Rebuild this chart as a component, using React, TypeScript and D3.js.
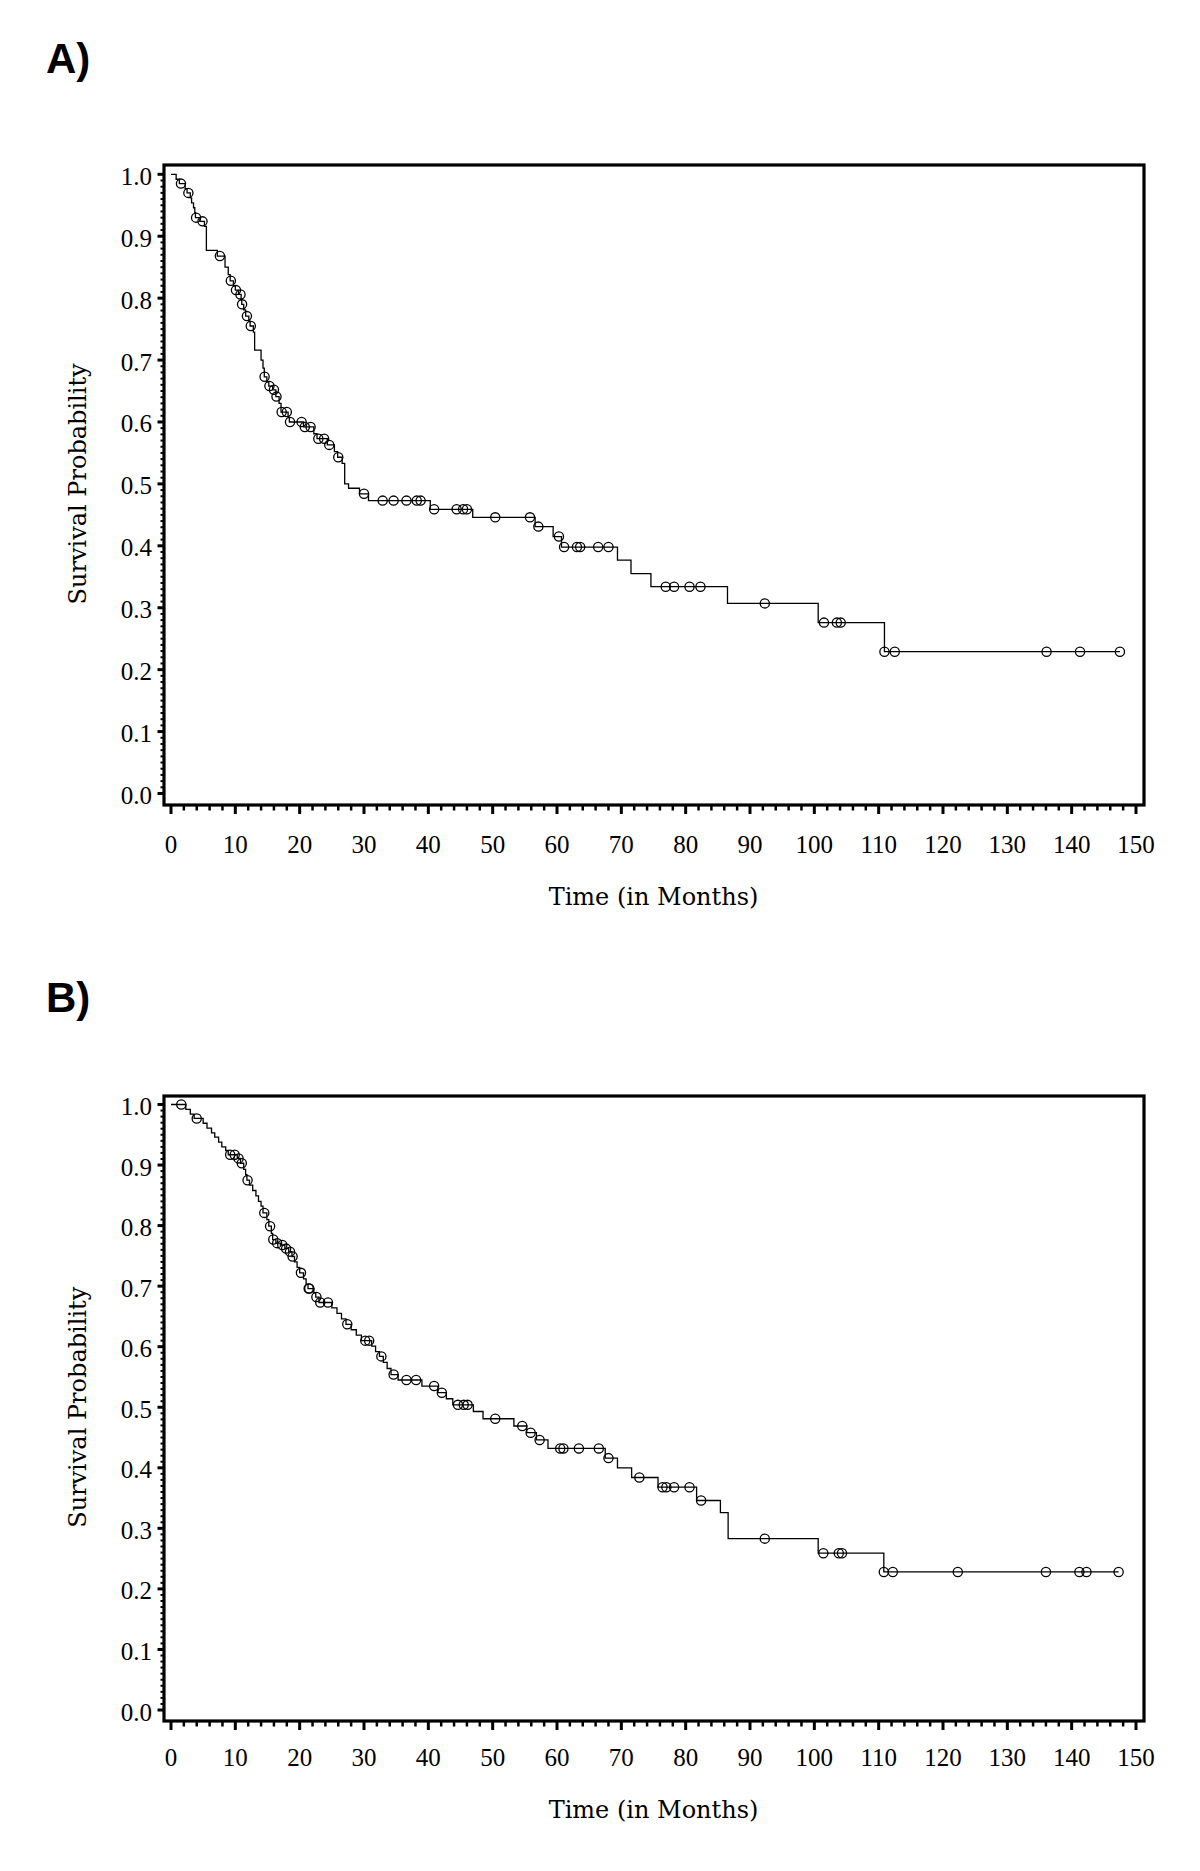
import React from 'react';
import * as d3 from 'd3';

// ---------- data ----------
const xTickValues = [0, 10, 20, 30, 40, 50, 60, 70, 80, 90, 100, 110, 120, 130, 140, 150];
const yTickValues = [0.0, 0.1, 0.2, 0.3, 0.4, 0.5, 0.6, 0.7, 0.8, 0.9, 1.0];

// Panel A: [time in months, survival probability after the step]
const stepsA: [number, number][] = [
  [0, 1.0], [0.8, 0.992], [1.3, 0.985], [2.2, 0.977], [2.5, 0.970], [3.0, 0.962],
  [3.2, 0.954], [3.5, 0.946], [3.7, 0.938], [3.8, 0.930], [4.5, 0.924], [5.2, 0.916],
  [5.5, 0.877], [7.2, 0.868], [8.4, 0.850], [8.9, 0.838], [9.2, 0.828], [9.7, 0.820],
  [10.0, 0.813], [10.5, 0.806], [10.9, 0.798], [11.0, 0.790], [11.3, 0.781], [11.6, 0.771],
  [12.1, 0.763], [12.3, 0.755], [12.8, 0.745], [13.0, 0.716], [14.0, 0.700], [14.3, 0.687],
  [14.5, 0.673], [14.9, 0.665], [15.2, 0.658], [15.8, 0.652], [16.3, 0.641], [16.8, 0.630],
  [17.1, 0.616], [18.2, 0.608], [18.4, 0.600], [20.6, 0.592], [22.2, 0.581], [22.7, 0.573],
  [24.3, 0.563], [25.4, 0.552], [25.9, 0.543], [26.6, 0.533], [27.0, 0.500], [27.6, 0.493],
  [29.3, 0.484], [30.7, 0.473], [40.3, 0.459], [46.9, 0.446], [56.6, 0.431], [59.4, 0.415],
  [60.7, 0.398], [69.4, 0.377], [71.5, 0.355], [74.6, 0.334], [86.5, 0.307], [100.6, 0.276],
  [110.9, 0.229],
];
const censorA = [
  1.55, 2.7, 3.9, 4.9, 7.6, 9.3, 10.1, 10.8, 11.05, 11.8, 12.4, 14.55, 15.3, 16.0, 16.4,
  17.2, 18.0, 18.5, 20.3, 20.8, 21.7, 22.9, 23.8, 24.6, 26.0, 30.0, 32.9, 34.6, 36.6, 38.2,
  38.8, 40.9, 44.4, 45.4, 46.0, 50.4, 55.8, 57.1, 60.3, 61.1, 63.1, 63.6, 66.4, 68.0, 76.9,
  78.2, 80.6, 82.3, 92.3, 101.5, 103.5, 104.1, 110.9, 112.5, 136.1, 141.3, 147.5,
];
const endA = 147.5;

// Panel B
const stepsB: [number, number][] = [
  [0, 1.0], [2.3, 0.992], [3.0, 0.984], [3.6, 0.977], [5.0, 0.969], [5.6, 0.961],
  [6.3, 0.953], [6.8, 0.946], [7.4, 0.938], [7.9, 0.930], [8.5, 0.924], [8.9, 0.917],
  [10.3, 0.911], [10.8, 0.903], [11.3, 0.893], [11.6, 0.884], [11.8, 0.875], [12.2, 0.867],
  [12.7, 0.858], [13.2, 0.849], [13.6, 0.840], [14.0, 0.832], [14.3, 0.821], [14.9, 0.810],
  [15.2, 0.799], [15.6, 0.787], [15.8, 0.777], [16.3, 0.771], [17.0, 0.768], [17.7, 0.762],
  [18.3, 0.757], [18.8, 0.749], [19.2, 0.740], [19.6, 0.731], [20.0, 0.722], [20.6, 0.712],
  [21.0, 0.703], [21.3, 0.696], [22.2, 0.689], [22.5, 0.682], [23.0, 0.673], [25.0, 0.664],
  [25.8, 0.655], [26.5, 0.646], [27.2, 0.637], [28.0, 0.628], [28.8, 0.619], [29.6, 0.610],
  [31.2, 0.601], [31.8, 0.592], [32.4, 0.584], [33.0, 0.574], [33.6, 0.564], [34.2, 0.554],
  [35.3, 0.545], [39.0, 0.535], [41.5, 0.524], [42.8, 0.514], [43.8, 0.504], [47.0, 0.493],
  [48.5, 0.481], [53.3, 0.469], [55.3, 0.458], [56.8, 0.446], [58.6, 0.432], [67.5, 0.416],
  [69.4, 0.400], [71.6, 0.384], [75.7, 0.368], [81.7, 0.346], [85.4, 0.326], [86.6, 0.283],
  [100.6, 0.259], [110.8, 0.228],
];
const censorB = [
  1.6, 4.0, 9.2, 9.9, 10.5, 11.0, 11.9, 14.5, 15.4, 15.9, 16.5, 17.3, 17.9, 18.5, 18.9,
  20.2, 21.4, 21.5, 22.6, 23.2, 24.4, 27.4, 30.2, 30.8, 32.7, 34.6, 36.6, 38.1, 40.9, 42.1,
  44.6, 45.5, 46.1, 50.4, 54.6, 55.9, 57.3, 60.5, 61.0, 63.4, 66.5, 68.0, 72.8, 76.4, 77.0,
  78.2, 80.6, 82.4, 92.3, 101.4, 103.8, 104.3, 110.8, 112.2, 122.3, 136.0, 141.2, 142.3, 147.3,
];
const endB = 147.3;

// ---------- layout ----------
const W = 1200;
const H = 1871;
const frameLeft = 164;
const frameRight = 1144;
const xScale = d3.scaleLinear().domain([0, 150]).range([171, 1136]);

const serif = "'Liberation Serif', 'Times New Roman', serif";
const titleFont = "'DejaVu Serif', serif";

interface PanelProps {
  label: string;
  labelBaseline: number;
  frameTop: number;
  frameBottom: number;
  yTop: number;
  yBottom: number;
  steps: [number, number][];
  censors: number[];
  endTime: number;
  xLabelBaseline: number;
  xTitleBaseline: number;
}

function survAt(steps: [number, number][], t: number): number {
  let s = steps[0][1];
  for (const [st, sv] of steps) {
    if (st <= t) s = sv;
    else break;
  }
  return s;
}

function Panel(p: PanelProps) {
  const yScale = d3.scaleLinear().domain([0, 1]).range([p.yBottom, p.yTop]);
  const pts: [number, number][] = [...p.steps, [p.endTime, p.steps[p.steps.length - 1][1]]];
  const line = d3
    .line<[number, number]>()
    .x((d) => xScale(d[0]))
    .y((d) => yScale(d[1]))
    .curve(d3.curveStepAfter);

  const xMinor = d3.range(0, 150.001, 2).filter((v) => Math.round(v) % 10 !== 0);
  const yMinor = d3.range(0, 100.001, 1).filter((v) => Math.round(v) % 10 !== 0).map((v) => v / 100);
  const fmt = d3.format('.1f');
  const yMid = (p.yTop + p.yBottom) / 2;
  const xMid = (xScale(0) + xScale(150)) / 2;

  return (
    <g>
      <text
        x={46}
        y={p.labelBaseline}
        fontFamily="'Liberation Sans', Arial, sans-serif"
        fontWeight="bold"
        fontSize={42}
        fill="#000"
      >
        {p.label}
      </text>

      {/* y ticks */}
      {yMinor.map((v) => (
        <line key={'ym' + v} x1={160.5} x2={164} y1={yScale(v)} y2={yScale(v)} stroke="#000" strokeWidth={2} />
      ))}
      {yTickValues.map((v) => (
        <g key={'y' + v}>
          <line x1={157.5} x2={164} y1={yScale(v)} y2={yScale(v)} stroke="#000" strokeWidth={3} />
          <text x={152} y={yScale(v) + 10.5} textAnchor="end" fontFamily={serif} fontSize={25} fill="#000">
            {fmt(v)}
          </text>
        </g>
      ))}

      {/* x ticks */}
      {xMinor.map((v) => (
        <line key={'xm' + v} x1={xScale(v)} x2={xScale(v)} y1={p.frameBottom} y2={p.frameBottom + 5.5} stroke="#000" strokeWidth={2.5} />
      ))}
      {xTickValues.map((v) => (
        <g key={'x' + v}>
          <line x1={xScale(v)} x2={xScale(v)} y1={p.frameBottom} y2={p.frameBottom + 9} stroke="#000" strokeWidth={3} />
          <text x={xScale(v)} y={p.xLabelBaseline} textAnchor="middle" fontFamily={serif} fontSize={25} fill="#000">
            {String(v)}
          </text>
        </g>
      ))}

      {/* frame */}
      <rect
        x={frameLeft}
        y={p.frameTop}
        width={frameRight - frameLeft}
        height={p.frameBottom - p.frameTop}
        fill="none"
        stroke="#000"
        strokeWidth={3.2}
      />

      {/* curve */}
      <path d={line(pts) || ''} fill="none" stroke="#000" strokeWidth={1.3} />
      {p.censors.map((t, i) => (
        <circle
          key={'c' + i}
          cx={xScale(t)}
          cy={yScale(survAt(p.steps, t))}
          r={4.6}
          fill="none"
          stroke="#000"
          strokeWidth={1.3}
        />
      ))}

      {/* axis titles */}
      <text
        x={xMid}
        y={p.xTitleBaseline}
        textAnchor="middle"
        fontFamily={titleFont}
        fontSize={24}
        fill="#000"
      >
        Time (in Months)
      </text>
      <text
        transform={`translate(86, ${yMid}) rotate(-90)`}
        textAnchor="middle"
        fontFamily={titleFont}
        fontSize={24}
        fill="#000"
      >
        Survival Probability
      </text>
    </g>
  );
}

export default function App() {
  return (
    <svg
      width={W}
      height={H}
      viewBox={`0 0 ${W} ${H}`}
      style={{ position: 'absolute', left: 0, top: 0, background: '#fff' }}
    >
      <rect x={0} y={0} width={W} height={H} fill="#fff" />
      <Panel
        label="A)"
        labelBaseline={73}
        frameTop={165}
        frameBottom={805}
        yTop={174.3}
        yBottom={793.5}
        steps={stepsA}
        censors={censorA}
        endTime={endA}
        xLabelBaseline={853}
        xTitleBaseline={905}
      />
      <Panel
        label="B)"
        labelBaseline={1012}
        frameTop={1096}
        frameBottom={1721}
        yTop={1104.5}
        yBottom={1710}
        steps={stepsB}
        censors={censorB}
        endTime={endB}
        xLabelBaseline={1766}
        xTitleBaseline={1818}
      />
    </svg>
  );
}
